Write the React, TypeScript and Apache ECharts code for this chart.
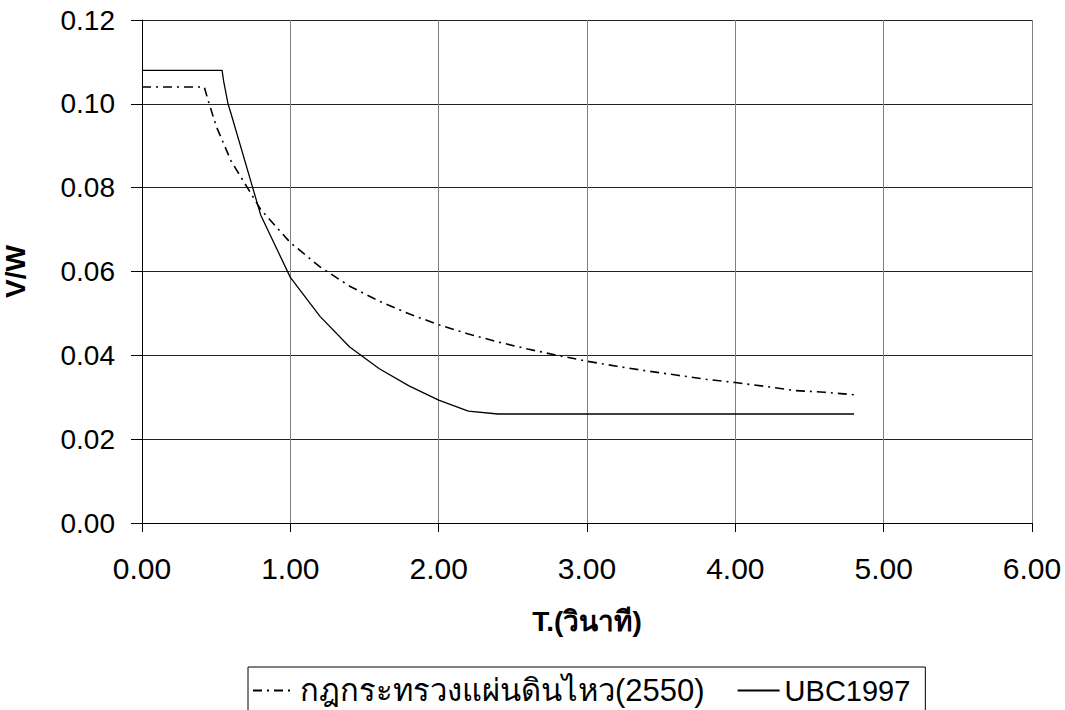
import React, { useEffect, useRef } from "react";
import * as echarts from "echarts";

const thaiName = "กฎกระทรวงแผ่นดินไหว(2550)";
const ubcName = "UBC1997";

const thaiT = [0, 0.42, 0.44, 0.5, 0.6, 0.8, 1.0, 1.2, 1.4, 1.6, 1.8, 2.0, 2.2, 2.4, 2.6, 2.8, 3.0, 3.2, 3.4, 3.6, 3.8, 4.0, 4.2, 4.4, 4.6, 4.8];
const thaiV = [0.104, 0.104, 0.1015, 0.0947, 0.0864, 0.0748, 0.0669, 0.0611, 0.0565, 0.0529, 0.0499, 0.0473, 0.0451, 0.0432, 0.0415, 0.04, 0.0386, 0.0374, 0.0363, 0.0353, 0.0343, 0.0335, 0.0326, 0.0316, 0.0312, 0.0306];

const ubcT = [0, 0.54, 0.55, 0.58, 0.6, 0.8, 1.0, 1.2, 1.4, 1.6, 1.8, 2.0, 2.2, 2.4, 2.6, 2.8, 3.0, 3.5, 4.0, 4.5, 4.8];
const ubcV = [0.108, 0.108, 0.1055, 0.1, 0.0977, 0.0735, 0.0586, 0.0493, 0.042, 0.0368, 0.0327, 0.0293, 0.0267, 0.026, 0.026, 0.026, 0.026, 0.026, 0.026, 0.026, 0.026];

const xTicks = { min: 0, max: 6, interval: 1 };
const yTicks = { min: 0, max: 0.12, interval: 0.02 };

const FONT = "'Liberation Sans', Arial, 'Noto Sans', 'DejaVu Sans', sans-serif";

export default function App() {
  const ref = useRef<HTMLDivElement>(null);
  useEffect(() => {
    if (!ref.current) return;
    const chart = echarts.init(ref.current, undefined, { renderer: "svg" });
    const zip = (a: number[], b: number[]) => a.map((v, i) => [v, b[i]]);
    chart.setOption({
      animation: false,
      backgroundColor: "#fff",
      textStyle: { fontFamily: FONT },
      grid: { left: 142, right: 33, top: 20, bottom: 187, containLabel: false, outerBoundsMode: "none" },
      legend: {
        left: 248,
        top: 667,
        orient: "horizontal",
        borderColor: "#000",
        borderWidth: 1,
        borderRadius: 0,
        padding: [8, 15, 20, 4],
        itemGap: 32,
        itemWidth: 42,
        itemHeight: 14,
        itemStyle: { opacity: 0 },
        formatter: (name: string) => (name === thaiName ? `{t|${name}}` : name),
        textStyle: {
          fontSize: 29,
          color: "#000",
          fontFamily: FONT,
          rich: {
            t: { fontSize: 31, color: "#000", fontFamily: FONT },
          },
        },
        data: [thaiName, ubcName],
      },
      xAxis: {
        type: "value",
        min: xTicks.min,
        max: xTicks.max,
        interval: xTicks.interval,
        name: "T.(วินาที)",
        nameLocation: "middle",
        nameGap: 84,
        nameTextStyle: { fontSize: 28, fontWeight: "bold", color: "#000", fontFamily: FONT },
        axisLine: { show: true, lineStyle: { color: "#000", width: 1 } },
        axisTick: { show: true, inside: false, length: 9, lineStyle: { color: "#000" } },
        axisLabel: { fontSize: 30, color: "#000", margin: 30, formatter: (v: number) => v.toFixed(2), fontFamily: FONT },
        splitLine: { show: true, lineStyle: { color: "#808080", width: 1 } },
      },
      yAxis: {
        type: "value",
        min: yTicks.min,
        max: yTicks.max,
        interval: yTicks.interval,
        name: "V/W",
        nameLocation: "middle",
        nameGap: 113,
        nameRotate: 90,
        nameTextStyle: { fontSize: 28, fontWeight: "bold", color: "#000", fontFamily: FONT },
        axisLine: { show: true, lineStyle: { color: "#000", width: 1 } },
        axisTick: { show: true, inside: false, length: 11, lineStyle: { color: "#000" } },
        axisLabel: { fontSize: 28, color: "#000", margin: 27, formatter: (v: number) => v.toFixed(2), fontFamily: FONT },
        splitLine: { show: true, lineStyle: { color: "#222", width: 1 } },
      },
      series: [
        {
          name: thaiName,
          type: "line",
          data: zip(thaiT, thaiV),
          showSymbol: false,
          symbol: "none",
          lineStyle: { color: "#000", width: 1.6, type: [9, 5, 2, 5] },
          itemStyle: { color: "#000" },
        },
        {
          name: ubcName,
          type: "line",
          data: zip(ubcT, ubcV),
          showSymbol: false,
          symbol: "none",
          lineStyle: { color: "#000", width: 1.3, type: "solid" },
          itemStyle: { color: "#000" },
        },
      ],
    });
    return () => chart.dispose();
  }, []);
  return <div ref={ref} style={{ position: "fixed", left: 0, top: 0, width: 1065, height: 710 }} />;
}
